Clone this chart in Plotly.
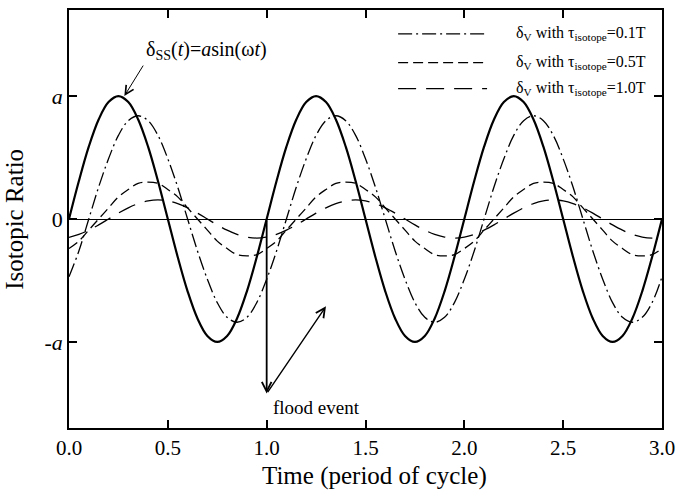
import plotly.graph_objects as go

# ---- data (time in periods, ratio in units of a) ----
time = [0.0, 0.05, 0.1, 0.15, 0.2, 0.25, 0.3, 0.35, 0.4, 0.45,
        0.5, 0.55, 0.6, 0.65, 0.7, 0.75, 0.8, 0.85, 0.9, 0.95,
        1.0, 1.05, 1.1, 1.15, 1.2, 1.25, 1.3, 1.35, 1.4, 1.45,
        1.5, 1.55, 1.6, 1.65, 1.7, 1.75, 1.8, 1.85, 1.9, 1.95,
        2.0, 2.05, 2.1, 2.15, 2.2, 2.25, 2.3, 2.35, 2.4, 2.45,
        2.5, 2.55, 2.6, 2.65, 2.7, 2.75, 2.8, 2.85, 2.9, 2.95, 3.0]

delta_ss = [0.0, 0.309, 0.588, 0.809, 0.951, 1.0, 0.951, 0.809, 0.588, 0.309,
            0.0, -0.309, -0.588, -0.809, -0.951, -1.0, -0.951, -0.809, -0.588, -0.309,
            0.0, 0.309, 0.588, 0.809, 0.951, 1.0, 0.951, 0.809, 0.588, 0.309,
            0.0, -0.309, -0.588, -0.809, -0.951, -1.0, -0.951, -0.809, -0.588, -0.309,
            0.0, 0.309, 0.588, 0.809, 0.951, 1.0, 0.951, 0.809, 0.588, 0.309,
            0.0, -0.309, -0.588, -0.809, -0.951, -1.0, -0.951, -0.809, -0.588, -0.309,
            0.0]

delta_v_01 = [-0.47, -0.26,
              0.0, 0.26, 0.49, 0.68, 0.80, 0.84, 0.80, 0.68, 0.49, 0.26,
              0.0, -0.26, -0.49, -0.68, -0.80, -0.84, -0.80, -0.68, -0.49, -0.26,
              0.0, 0.26, 0.49, 0.68, 0.80, 0.84, 0.80, 0.68, 0.49, 0.26,
              0.0, -0.26, -0.49, -0.68, -0.80, -0.84, -0.80, -0.68, -0.49, -0.26,
              0.0, 0.26, 0.49, 0.68, 0.80, 0.84, 0.80, 0.68, 0.49, 0.26,
              0.0, -0.26, -0.49, -0.68, -0.80, -0.84, -0.80, -0.68, -0.47]

delta_v_05 = [-0.24, -0.18, -0.09,
              0.0, 0.09, 0.18, 0.24, 0.29, 0.30, 0.29, 0.24, 0.18, 0.09,
              0.0, -0.09, -0.18, -0.24, -0.29, -0.30, -0.29, -0.24, -0.18, -0.09,
              0.0, 0.09, 0.18, 0.24, 0.29, 0.30, 0.29, 0.24, 0.18, 0.09,
              0.0, -0.09, -0.18, -0.24, -0.29, -0.30, -0.29, -0.24, -0.18, -0.09,
              0.0, 0.09, 0.18, 0.24, 0.29, 0.30, 0.29, 0.24, 0.18, 0.09,
              0.0, -0.09, -0.18, -0.24, -0.29, -0.30, -0.29, -0.24]

delta_v_10 = [-0.150, -0.125, -0.091, -0.048,
              0.0, 0.048, 0.091, 0.125, 0.147, 0.155, 0.147, 0.125, 0.091, 0.048,
              0.0, -0.048, -0.091, -0.125, -0.147, -0.155, -0.147, -0.125, -0.091, -0.048,
              0.0, 0.048, 0.091, 0.125, 0.147, 0.155, 0.147, 0.125, 0.091, 0.048,
              0.0, -0.048, -0.091, -0.125, -0.147, -0.155, -0.147, -0.125, -0.091, -0.048,
              0.0, 0.048, 0.091, 0.125, 0.147, 0.155, 0.147, 0.125, 0.091, 0.048,
              0.0, -0.048, -0.091, -0.125, -0.147, -0.155, -0.150]

x_tick_vals = [0.0, 0.5, 1.0, 1.5, 2.0, 2.5, 3.0]
x_tick_text = ["0.0", "0.5", "1.0", "1.5", "2.0", "2.5", "3.0"]
y_tick_vals = [-1, 0, 1]
y_tick_text = ["-<i>a</i>", "0", "<i>a</i>"]

legend_labels = ["δ<sub>V</sub> with τ<sub>isotope</sub>=0.1T",
                 "δ<sub>V</sub> with τ<sub>isotope</sub>=0.5T",
                 "δ<sub>V</sub> with τ<sub>isotope</sub>=1.0T"]

FONT = "Liberation Serif"
DASH_01 = "14px,4px,2px,4px"
DASH_05 = "10px,5px"
DASH_10 = "18px,10px"

fig = go.Figure()

fig.add_trace(go.Scatter(x=time, y=delta_ss, mode="lines", line_shape="spline",
                         line=dict(color="black", width=2.2), showlegend=False))
fig.add_trace(go.Scatter(x=time, y=delta_v_01, mode="lines", line_shape="spline",
                         line=dict(color="black", width=1.3, dash=DASH_01), showlegend=False))
fig.add_trace(go.Scatter(x=time, y=delta_v_05, mode="lines", line_shape="spline",
                         line=dict(color="black", width=1.3, dash=DASH_05), showlegend=False))
fig.add_trace(go.Scatter(x=time, y=delta_v_10, mode="lines", line_shape="spline",
                         line=dict(color="black", width=1.3, dash=DASH_10), showlegend=False))

# arrows (annotation graphics): tail (x0, y0) -> head (x1, y1)
def arrow(x0, y0, x1, y1, w, size):
    fig.add_annotation(x=x1, y=y1, ax=x0, ay=y0, xref="x", yref="y",
                       axref="x", ayref="y", text="", showarrow=True,
                       arrowhead=5, arrowsize=size, arrowwidth=w,
                       arrowcolor="black", standoff=0, startstandoff=0)

arrow(0.38, 1.26, 0.28, 1.0, 1.0, 1.7)      # to delta_ss label
arrow(1.0, 0.0, 1.0, -1.42, 1.8, 1.05)      # flood event vertical
arrow(1.0, -1.42, 1.30, -0.71, 1.4, 1.3)    # flood event diagonal

# manual legend (long line samples)
leg_x0, leg_x1, leg_tx = 0.555, 0.705, 0.75
leg_y = [0.943, 0.874, 0.812]
for dash, yy, lab in zip([DASH_01, DASH_05, DASH_10], leg_y, legend_labels):
    fig.add_shape(type="line", xref="paper", yref="paper", x0=leg_x0, x1=leg_x1,
                  y0=yy, y1=yy, line=dict(color="black", width=1.3, dash=dash))
    fig.add_annotation(xref="paper", yref="paper", x=leg_tx, y=yy, text=lab,
                       showarrow=False, xanchor="left", yanchor="middle",
                       font=dict(family=FONT, size=16, color="black"))

fig.add_annotation(x=0.6975, y=1.37, xref="x", yref="y",
                   text="δ<sub>SS</sub>(<i>t</i>)=<i>a</i>sin(ω<i>t</i>)",
                   showarrow=False, font=dict(family=FONT, size=20, color="black"))
fig.add_annotation(x=1.25, y=-1.533, xref="x", yref="y", text="flood event",
                   showarrow=False, font=dict(family=FONT, size=19, color="black"))

# axis titles
fig.add_annotation(xref="paper", yref="paper", x=0.516, y=-0.114,
                   text="Time (period of cycle)", showarrow=False,
                   xanchor="center", yanchor="middle",
                   font=dict(family=FONT, size=25, color="black"))
fig.add_annotation(xref="paper", yref="paper", x=-0.093, y=0.5,
                   text="Isotopic Ratio", showarrow=False, textangle=-90,
                   xanchor="center", yanchor="middle",
                   font=dict(family=FONT, size=25, color="black"))

fig.update_layout(
    width=683, height=491,
    margin=dict(l=69, r=14, t=8, b=63),
    paper_bgcolor="white", plot_bgcolor="white",
    font=dict(family=FONT, color="black"),
    xaxis=dict(range=[0, 3], tickvals=x_tick_vals, ticktext=x_tick_text,
               ticks="inside", ticklen=8, tickwidth=1.5, tickcolor="black",
               showline=True, linecolor="black", linewidth=1.5, mirror="ticks",
               showgrid=False, zeroline=False,
               tickfont=dict(family=FONT, size=21, color="black")),
    yaxis=dict(range=[-1.7, 1.7], tickvals=y_tick_vals, ticktext=y_tick_text,
               ticks="inside", ticklen=8, tickwidth=1.5, tickcolor="black",
               showline=True, linecolor="black", linewidth=1.5, mirror="ticks",
               showgrid=False, zeroline=True, zerolinecolor="black", zerolinewidth=1,
               tickfont=dict(family=FONT, size=22, color="black")),
)

fig.write_html("out.html")
